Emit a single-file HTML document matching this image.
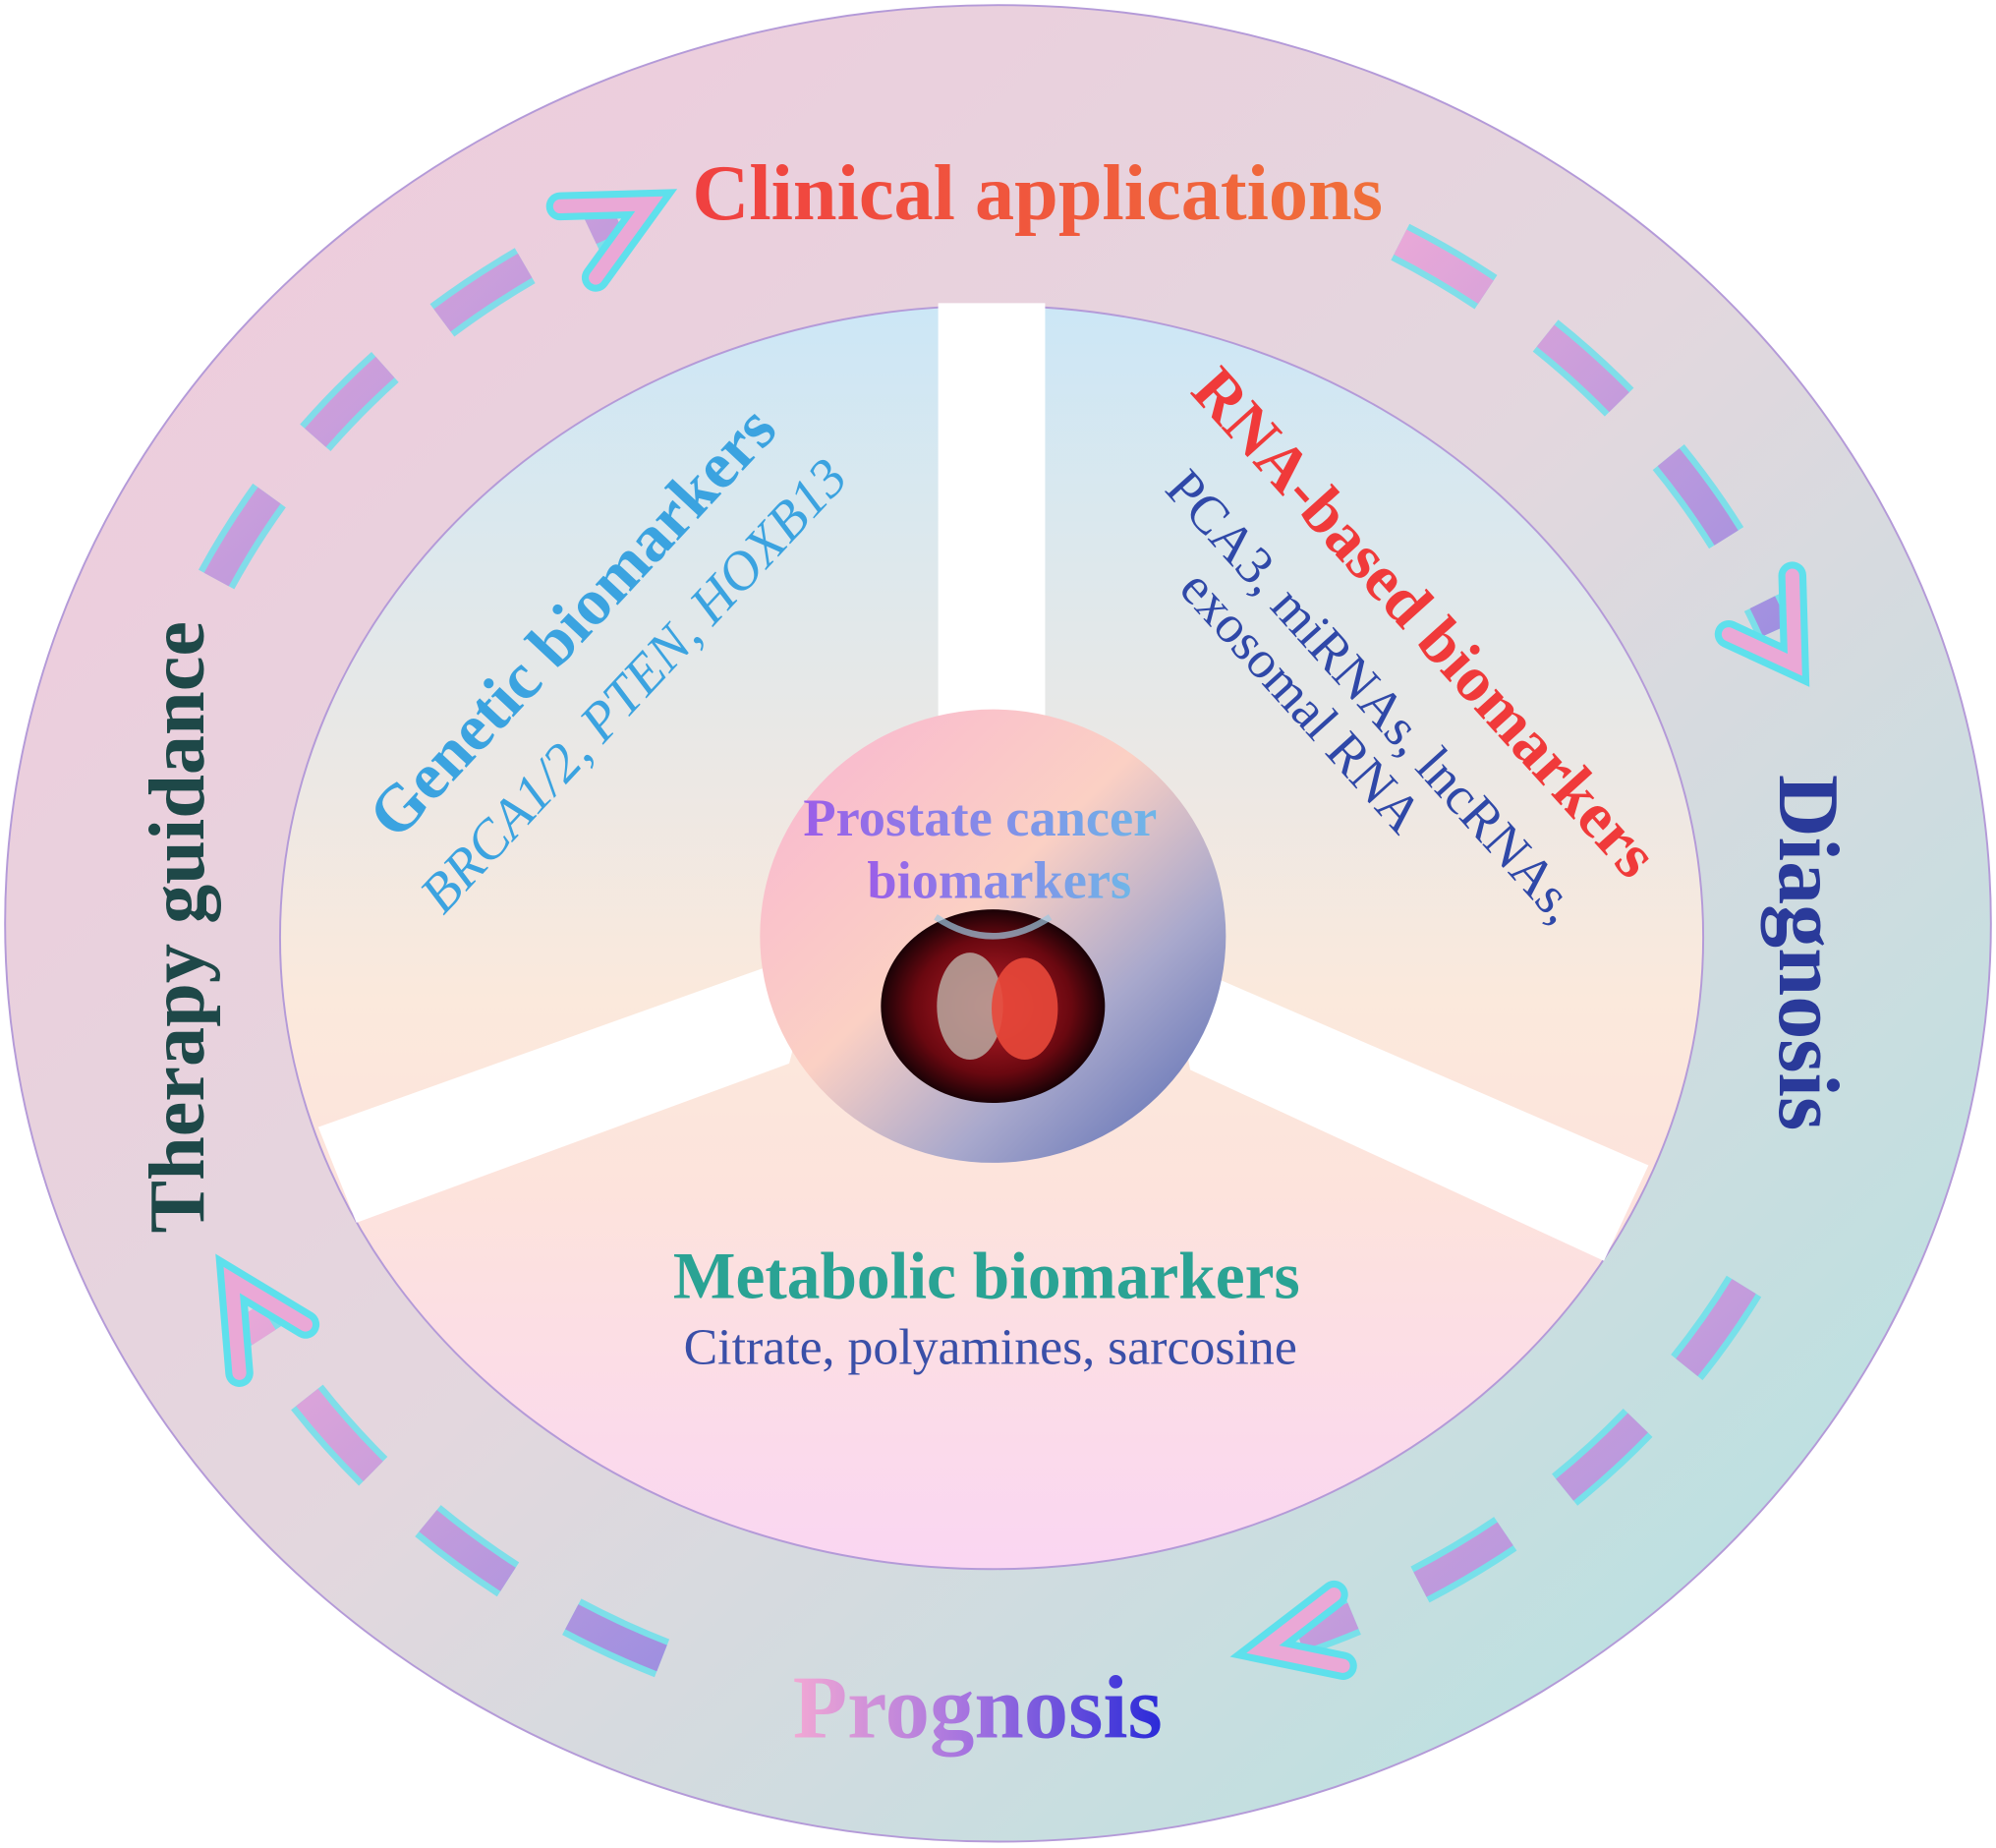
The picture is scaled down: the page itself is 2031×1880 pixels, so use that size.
<!DOCTYPE html>
<html><head><meta charset="utf-8"><style>html,body{margin:0;padding:0;background:#fff}svg{display:block}</style></head>
<body>
<svg width="2031" height="1880" viewBox="0 0 1568 1451" preserveAspectRatio="none" xmlns="http://www.w3.org/2000/svg" font-family="Liberation Serif, serif">
<defs>
<linearGradient id="outer" x1="0" y1="0" x2="1" y2="1">
<stop offset="0" stop-color="#f1c9dc"/><stop offset="0.5" stop-color="#e3d7de"/><stop offset="1" stop-color="#afe4e2"/></linearGradient>
<linearGradient id="innerTop" x1="0" y1="0" x2="0" y2="1">
<stop offset="0" stop-color="#cce7f6"/><stop offset="0.55" stop-color="#fbe9dc"/><stop offset="0.7" stop-color="#fde3dc"/><stop offset="1" stop-color="#fad6f2"/></linearGradient>
<linearGradient id="center" x1="0" y1="0" x2="1" y2="1">
<stop offset="0" stop-color="#f8b4d2"/><stop offset="0.45" stop-color="#fbd0c4"/><stop offset="0.7" stop-color="#a8a8cc"/><stop offset="1" stop-color="#4f64b0"/></linearGradient>
<radialGradient id="pros" cx="0.5" cy="0.5" r="0.5">
<stop offset="0" stop-color="#c0202a"/><stop offset="0.7" stop-color="#6a0810"/><stop offset="1" stop-color="#1a0206"/></radialGradient>
<linearGradient id="clin" x1="0" y1="0" x2="1" y2="0"><stop offset="0" stop-color="#f04040"/><stop offset="1" stop-color="#f0703a"/></linearGradient>
<linearGradient id="prog" x1="0" y1="0" x2="1" y2="0"><stop offset="0" stop-color="#f2a8d4"/><stop offset="0.5" stop-color="#a070e0"/><stop offset="1" stop-color="#2a2ad8"/></linearGradient>
<linearGradient id="pc" x1="0" y1="0" x2="1" y2="0"><stop offset="0" stop-color="#9b5ee8"/><stop offset="1" stop-color="#6fb6e8"/></linearGradient>
<linearGradient id="dash" x1="0" y1="0" x2="1" y2="1"><stop offset="0" stop-color="#e8a8d8"/><stop offset="1" stop-color="#a090e0"/></linearGradient>
</defs>
<ellipse cx="784" cy="725" rx="780" ry="721" fill="url(#outer)" stroke="#b49ad8" stroke-width="1.5"/>
<ellipse cx="779" cy="736" rx="559" ry="496" fill="url(#innerTop)" stroke="#b49ad8" stroke-width="1.5"/>
<rect x="737" y="238" width="84" height="330" fill="#fff"/>
<polygon points="640,755 600,760 250,885 280,960 620,835" fill="#fff"/>
<polygon points="920,760 960,770 1295,915 1260,990 935,840" fill="#fff"/>
<ellipse cx="780" cy="735" rx="183" ry="178" fill="url(#center)"/>
<ellipse cx="780" cy="790" rx="88" ry="76" fill="url(#pros)"/>
<ellipse cx="762" cy="790" rx="26" ry="42" fill="#b8a8a0" opacity="0.85"/>
<ellipse cx="805" cy="792" rx="26" ry="40" fill="#e8483a" opacity="0.9"/>
<path d="M735 720 Q780 750 825 720" stroke="#a0c8e0" stroke-width="5" fill="none" opacity="0.7"/>
<text x="770" y="656" text-anchor="middle" font-weight="bold" font-size="42" fill="url(#pc)">Prostate cancer</text>
<text x="785" y="705" text-anchor="middle" font-weight="bold" font-size="42" fill="url(#pc)">biomarkers</text>
<text x="815" y="172" text-anchor="middle" font-weight="bold" font-size="62" fill="url(#clin)">Clinical applications</text>
<text x="768" y="1364" text-anchor="middle" font-weight="bold" font-size="70" fill="url(#prog)">Prognosis</text>
<text transform="translate(1398,748) rotate(90)" text-anchor="middle" font-weight="bold" font-size="68" fill="#2a3a9a">Diagnosis</text>
<text transform="translate(160,728) rotate(-90)" text-anchor="middle" font-weight="bold" font-size="62" fill="#1e4848">Therapy guidance</text>
<text transform="translate(462,500) rotate(-47)" text-anchor="middle" font-weight="bold" font-size="52" fill="#3ba3e0">Genetic biomarkers</text>
<text transform="translate(508,548) rotate(-47)" text-anchor="middle" font-style="italic" font-size="43" fill="#3ba3e0">BRCA1/2, PTEN, HOXB13</text>
<text transform="translate(1107,500) rotate(48)" text-anchor="middle" font-weight="bold" font-size="51" fill="#f03a3a">RNA-based biomarkers</text>
<text transform="translate(1068,556) rotate(48)" text-anchor="middle" font-size="42" fill="#2f48a8">PCA3, miRNAs, lncRNAs,</text>
<text transform="translate(1012,560) rotate(48)" text-anchor="middle" font-size="42" fill="#2f48a8">exosomal RNA</text>
<text x="775" y="1019" text-anchor="middle" font-weight="bold" font-size="52" fill="#2aa394">Metabolic biomarkers</text>
<text x="778" y="1071" text-anchor="middle" font-size="40" fill="#3a4fa8">Citrate, polyamines, sarcosine</text>
<g fill="none" stroke-dasharray="78 58">
<g stroke="#5ee0ec" stroke-width="32" opacity="0.75">
<path d="M170 455 A670 620 0 0 1 485 172"/>
<path d="M1100 190 A670 620 0 0 1 1395 495"/>
<path d="M1370 1010 A670 620 0 0 1 1020 1285"/>
<path d="M520 1302 A670 620 0 0 1 195 1030"/>
</g>
<g stroke="url(#dash)" stroke-width="22">
<path d="M170 455 A670 620 0 0 1 485 172"/>
<path d="M1100 190 A670 620 0 0 1 1395 495"/>
<path d="M1370 1010 A670 620 0 0 1 1020 1285"/>
<path d="M520 1302 A670 620 0 0 1 195 1030"/>
</g>
</g>
<g fill="none" stroke-linecap="round" stroke-linejoin="miter">
<g stroke="#5ee0ec" stroke-width="22">
<polyline points="440,162 510,160 468,218"/>
<polyline points="1408,452 1410,522 1358,498"/>
<polyline points="1048,1252 992,1295 1055,1308"/>
<polyline points="240,1040 182,1005 188,1078"/>
</g>
<g stroke="#eaa8d6" stroke-width="11">
<polyline points="440,162 510,160 468,218"/>
<polyline points="1408,452 1410,522 1358,498"/>
<polyline points="1048,1252 992,1295 1055,1308"/>
<polyline points="240,1040 182,1005 188,1078"/>
</g>
</g>
</svg>
</body></html>
